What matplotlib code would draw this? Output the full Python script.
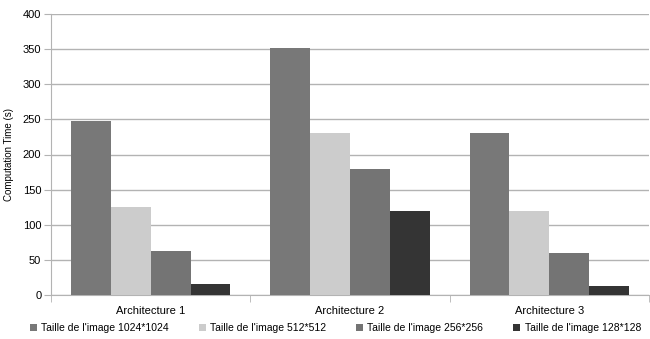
import matplotlib.pyplot as plt
import numpy as np

categories = ["Architecture 1", "Architecture 2", "Architecture 3"]
series_names = ["Taille de l'image 1024*1024", "Taille de l'image 512*512",
                "Taille de l'image 256*256", "Taille de l'image 128*128"]
t1024 = [248, 352, 231]
t512 = [125, 231, 120]
t256 = [63, 180, 60]
t128 = [16, 120, 13]
colors = ["#787878", "#cccccc", "#747474", "#343434"]

plt.rcParams['font.family'] = ['Liberation Sans', 'DejaVu Sans']

fig = plt.figure(figsize=(6.5, 3.39), dpi=100)
ax = fig.add_axes([51/650, 1-295/339, 598/650, 281/339])

x = np.arange(len(categories))
w = 0.2
for i, (vals, name) in enumerate(zip([t1024, t512, t256, t128], series_names)):
    ax.bar(x - 0.3 + i*w, vals, w, color=colors[i], label=name, zorder=3)

ax.set_xlim(-0.5, 2.5)
ax.set_ylim(0, 400)
ax.set_yticks(range(0, 401, 50))
ax.set_xticks(x)
ax.set_xticklabels(categories, fontsize=8)
ax.set_xticks([-0.5, 0.5, 1.5, 2.5], minor=True)
ax.tick_params(axis='x', which='major', length=0, pad=8)
ax.tick_params(axis='x', which='minor', length=5, color='#b3b3b3')
ax.tick_params(axis='y', labelsize=8, length=5, color='#b3b3b3', pad=2)
ax.set_ylabel("Computation Time (s)", fontsize=7, labelpad=6)
ax.yaxis.grid(True, color='#b3b3b3', linewidth=1, zorder=0)

for s in ['top', 'right']:
    ax.spines[s].set_visible(False)
for s in ['left', 'bottom']:
    ax.spines[s].set_color('#b3b3b3')

fig.legend(loc='center left', bbox_to_anchor=(30/650, 1-328/339), ncol=4, frameon=False,
           fontsize=7.5, handlelength=0.7, handleheight=0.7, handletextpad=0.4,
           columnspacing=2.85, borderaxespad=0, borderpad=0)

fig.savefig("out.png", dpi=100)
